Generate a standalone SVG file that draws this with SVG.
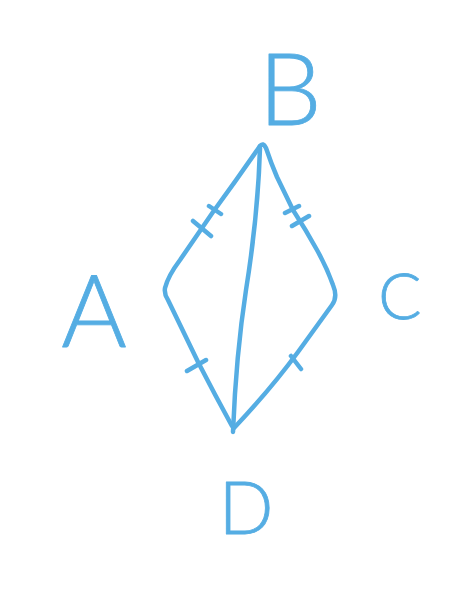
<svg xmlns="http://www.w3.org/2000/svg" width="474" height="592" viewBox="0 0 474 592">
<style>
.ln{fill:none;stroke:#55ade3;stroke-width:4.5;stroke-linecap:round;stroke-linejoin:round}
.lb{fill:#55ade3;stroke:#55ade3;stroke-width:0.8;stroke-linejoin:round;font-family:"Lato","Liberation Sans",sans-serif;font-weight:300;text-anchor:middle}
</style>
<rect width="474" height="592" fill="#ffffff"/>
<g id="connectors">
<path class="ln" d="M260,146 Q263,142 266,148 Q271,163 277,177 L293,210 Q306,230 317,250 Q327,268 333,285 Q338,297 332,305 L298,352 Q270,390 234,428"/>
<path class="ln" d="M260,146 Q238,178 213,212 L180,260 Q168,276 165,288 Q164,294 168,300 L198,362 Q215,395 232,426"/>
<path class="ln" d="M260,148 Q258,215 246,290 Q236,355 233,432"/>
<path class="ln" d="M209,206 L221,214 M193,221 L211,236 M285,213 L299,206 M292,226 L309,216 M187,371 L206,360 M291,356 L301,369"/>
</g>
<g id="A"><text class="lb" x="94" y="347" font-size="100">A</text></g>
<g id="B"><text class="lb" x="290" y="125" font-size="100">B</text></g>
<g id="C"><text class="lb" x="400" y="319" font-size="64">C</text></g>
<g id="D"><text class="lb" x="246" y="534" font-size="72">D</text></g>
</svg>
